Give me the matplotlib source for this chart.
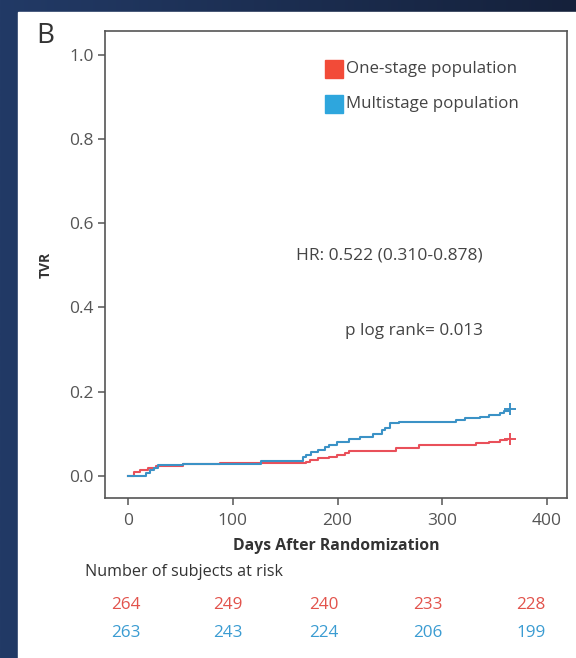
import numpy as np
import matplotlib.pyplot as plt
from matplotlib.patches import Rectangle

# Kaplan-Meier style cumulative TVR (step points: day, value)
days_one = [0, 6, 11, 19, 27, 52, 88, 170, 174, 181, 192, 199, 207, 211, 256, 278, 332, 345, 355, 362, 365]
tvr_one = [0, 0.010, 0.014, 0.018, 0.023, 0.028, 0.032, 0.034, 0.038, 0.042, 0.046, 0.050, 0.054, 0.059,
           0.066, 0.074, 0.078, 0.081, 0.085, 0.087, 0.087]

days_multi = [0, 17, 21, 25, 29, 52, 127, 167, 170, 175, 181, 188, 192, 199, 211, 221, 234, 242, 245,
              250, 259, 313, 322, 336, 345, 355, 359, 364, 365]
tvr_multi = [0, 0.007, 0.014, 0.020, 0.026, 0.028, 0.036, 0.045, 0.050, 0.058, 0.063, 0.069, 0.074, 0.081,
             0.087, 0.093, 0.101, 0.109, 0.113, 0.125, 0.129, 0.133, 0.137, 0.141, 0.145, 0.149, 0.154,
             0.158, 0.158]

series_labels = ["One-stage population", "Multistage population"]
at_risk_one = [264, 249, 240, 233, 228]
at_risk_multi = [263, 243, 224, 206, 199]

hr_text = "HR: 0.522 (0.310-0.878)"
p_text = "p log rank= 0.013"

red_line = "#e9505a"
blue_line = "#3b92c6"
red_box = "#f24b38"
blue_box = "#2ea6dd"
red_txt = "#e2534c"
blue_txt = "#3b9cd2"
grey = "#555555"

plt.rcParams['font.family'] = ['Open Sans', 'DejaVu Sans']

W, H = 576, 658
fig = plt.figure(figsize=(W / 100, H / 100), dpi=100)

# dark navy background with a gentle gradient
bg = fig.add_axes([0, 0, 1, 1], zorder=-10)
grad = np.linspace(0, 1, 256).reshape(1, -1)
bg.imshow(grad, aspect='auto', extent=[0, 1, 0, 1],
          cmap=plt.matplotlib.colors.LinearSegmentedColormap.from_list("bgc", ["#223a66", "#15213b"]))
bg.set_xlim(0, 1)
bg.set_ylim(0, 1)
bg.axis('off')
bg.add_patch(Rectangle((18 / W, 0), 1 - 18 / W, 1 - 12 / H, color="white", transform=bg.transAxes))

ax = fig.add_axes([105 / W, 1 - 498 / H, (567 - 105) / W, (498 - 31) / H])

ax.step(days_one, tvr_one, where='post', color=red_line, lw=1.5)
ax.step(days_multi, tvr_multi, where='post', color=blue_line, lw=1.5)
ax.plot(days_one[-1], tvr_one[-1], marker='+', color=red_line, ms=8, mew=1.4)
ax.plot(days_multi[-1], tvr_multi[-1], marker='+', color=blue_line, ms=8, mew=1.4)

ax.set_xlim(-22, 419)
ax.set_ylim(-0.052, 1.056)
ax.set_xticks([0, 100, 200, 300, 400])
ax.set_yticks([0.0, 0.2, 0.4, 0.6, 0.8, 1.0])
ax.set_yticklabels(["0.0", "0.2", "0.4", "0.6", "0.8", "1.0"])
ax.tick_params(axis='both', colors=grey, labelsize=12.5, length=5, width=1.1, direction='out')
ax.tick_params(axis='x', pad=6)
ax.tick_params(axis='y', pad=3)
for sp in ax.spines.values():
    sp.set_color(grey)
    sp.set_linewidth(1.2)

ax.set_xlabel("Days After Randomization", fontsize=11.3, fontweight='bold', color="#333333", labelpad=6)
ax.set_ylabel("TVR", fontsize=10, fontweight='bold', color="#333333", labelpad=12)

# legend squares
for i, (lab, col) in enumerate(zip(series_labels, [red_box, blue_box])):
    ytop = 60 + i * 35
    fig.patches.append(Rectangle((325 / W, 1 - (ytop + 18) / H), 18 / W, 18 / H,
                                 color=col, transform=fig.transFigure, figure=fig))
    fig.text(346 / W, 1 - (ytop + 9) / H, lab, fontsize=12.2, color="#444444", va='center', ha='left')

ax.text(0.818, 1 - (256 - 31) / (498 - 31), hr_text, transform=ax.transAxes,
        ha='right', va='center', fontsize=12.5, color="#444444")
ax.text(0.818, 1 - (331 - 31) / (498 - 31), p_text, transform=ax.transAxes,
        ha='right', va='center', fontsize=12.3, color="#444444")

fig.text(36 / W, 1 - 36 / H, "B", fontsize=20, color="#333333", va='center', ha='left')

# number at risk table
fig.text(85 / W, 1 - 572 / H, "Number of subjects at risk", fontsize=11.6, color="#333333", va='center')
risk_x = [126, 228, 324, 428, 531]
for xp, a, b in zip(risk_x, at_risk_one, at_risk_multi):
    fig.text(xp / W, 1 - 605 / H, str(a), fontsize=12.3, color=red_txt, ha='center', va='center')
    fig.text(xp / W, 1 - 633 / H, str(b), fontsize=12.3, color=blue_txt, ha='center', va='center')

fig.savefig("out.png", dpi=100)
